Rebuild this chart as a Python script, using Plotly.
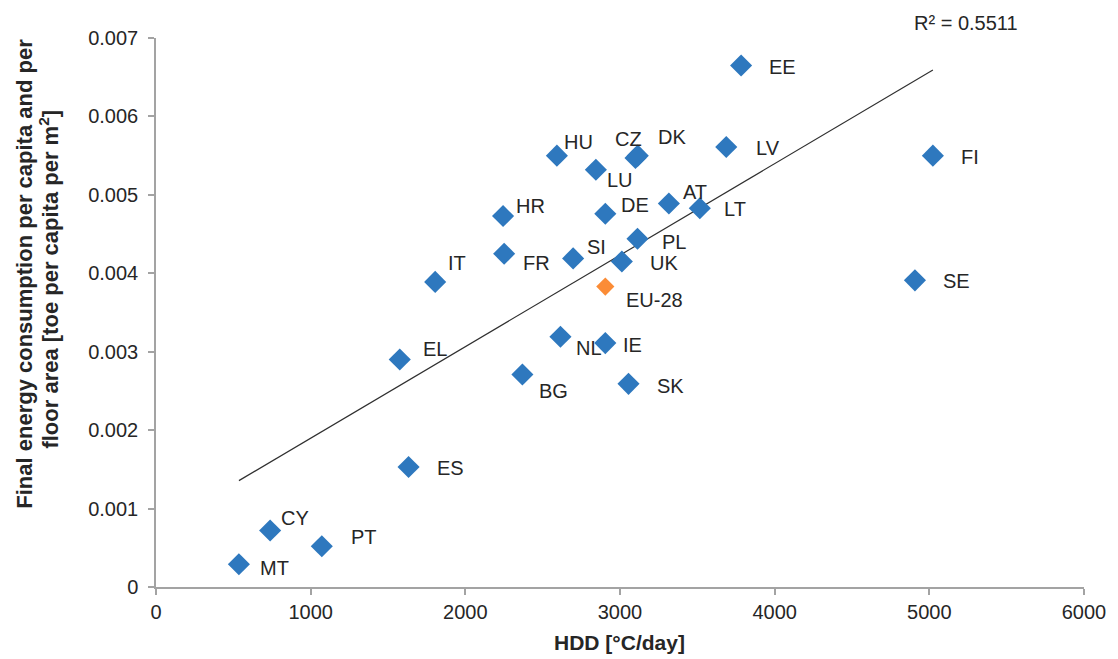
import numpy as np
import plotly.graph_objects as go

# ---- data ----
countries = ["EE", "FI", "SE", "LV", "HU", "CZ", "DK", "LU", "HR", "DE", "AT", "LT", "IT",
             "EL", "FR", "SI", "PL", "UK", "NL", "IE", "BG", "SK", "ES", "CY", "PT", "MT"]
hdd = [3783, 5023, 4907, 3687, 2592, 3100, 3115, 2844, 2244, 2905, 3316, 3516, 1805,
       1576, 2251, 2697, 3113, 3012, 2615, 2905, 2369, 3055, 1633, 738, 1072, 536]
consumption = [0.00665, 0.00550, 0.00391, 0.00561, 0.00550, 0.00547, 0.00550, 0.00532,
               0.00473, 0.00476, 0.00489, 0.00483, 0.00389, 0.00290, 0.00425, 0.00419,
               0.00444, 0.00415, 0.00319, 0.00311, 0.00271, 0.00259, 0.00153, 0.00072,
               0.00052, 0.00029]
eu_label = ["EU-28"]
eu_hdd = [2905]
eu_consumption = [0.00383]
r2_text = "R² = 0.5511"

x_ticks = [0, 1000, 2000, 3000, 4000, 5000, 6000]
y_ticks = [0, 0.001, 0.002, 0.003, 0.004, 0.005, 0.006, 0.007]
y_tick_text = ["0", "0.001", "0.002", "0.003", "0.004", "0.005", "0.006", "0.007"]

# ---- label placement (pixel offsets: left edge dx, centre dy downwards) ----
label_offsets = {
    "EE": (26, 2), "FI": (26, 1), "SE": (26, 1), "LV": (28, 1), "HU": (5, -14),
    "CZ": (-22, -19), "DK": (18, -19), "LU": (9, 10), "HR": (11, -10), "DE": (14, -9),
    "AT": (12, -11), "LT": (22, 1), "IT": (11, -19), "EL": (21, -11), "FR": (17, 9),
    "SI": (12, -11), "PL": (23, 3), "UK": (26, 1), "NL": (14, 11), "IE": (16, 2),
    "BG": (15, 17), "SK": (26, 2), "ES": (26, 1), "CY": (9, -13), "PT": (27, -9),
    "MT": (19, 4), "EU-28": (19, 13),
}

BLUE = "#2E78BE"
ORANGE = "#FB8C36"
TEXT = "#262626"
AXIS = "#A3A3A3"
FONT = "Liberation Sans, Arial, sans-serif"

W, H = 1118, 659
ML, MR, MT_, MB = 156, 29, 38, 72

# linear trend line (least squares over the countries)
slope, intercept = np.polyfit(hdd, consumption, 1)
trend_x = [min(hdd), max(hdd)]
trend_y = [slope * v + intercept for v in trend_x]

fig = go.Figure()
fig.add_trace(go.Scatter(x=trend_x, y=trend_y, mode="lines",
                         line=dict(color="#303030", width=1.2), hoverinfo="skip",
                         showlegend=False))
fig.add_trace(go.Scatter(x=hdd, y=consumption, mode="markers", text=countries,
                         marker=dict(symbol="diamond", size=17, color=BLUE),
                         showlegend=False))
fig.add_trace(go.Scatter(x=eu_hdd, y=eu_consumption, mode="markers", text=eu_label,
                         marker=dict(symbol="diamond", size=14, color=ORANGE),
                         showlegend=False))

plot_w = W - ML - MR
plot_h = H - MT_ - MB


def px_to_paper(px, py):
    return (px - ML) / plot_w, (H - MB - py) / plot_h


annotations = []
for name, xv, yv in list(zip(countries, hdd, consumption)) + list(zip(eu_label, eu_hdd, eu_consumption)):
    dx, dy = label_offsets[name]
    annotations.append(dict(x=xv, y=yv, xref="x", yref="y", text=name, showarrow=False,
                            xanchor="left", yanchor="middle", xshift=dx, yshift=-dy,
                            font=dict(family=FONT, size=20, color=TEXT)))

rx, ry = px_to_paper(970, 23)
annotations.append(dict(x=rx, y=ry, xref="paper", yref="paper", text=r2_text,
                        showarrow=False, xanchor="center", yanchor="middle",
                        font=dict(family=FONT, size=20, color=TEXT)))
tx, ty = px_to_paper(622, 642)
annotations.append(dict(x=tx, y=ty, xref="paper", yref="paper", text="<b>HDD [°C/day]</b>",
                        showarrow=False, xanchor="center", yanchor="middle",
                        font=dict(family=FONT, size=21, color=TEXT)))
l1x, l1y = px_to_paper(23, 274)
annotations.append(dict(x=l1x, y=l1y, xref="paper", yref="paper", textangle=-90,
                        text="<b>Final energy consumption per capita and per</b>",
                        showarrow=False, xanchor="center", yanchor="middle",
                        font=dict(family=FONT, size=22, color=TEXT)))
l2x, l2y = px_to_paper(48, 279)
annotations.append(dict(x=l2x, y=l2y, xref="paper", yref="paper", textangle=-90,
                        text="<b>floor area [toe per capita per m<sup>2</sup>]</b>",
                        showarrow=False, xanchor="center", yanchor="middle",
                        font=dict(family=FONT, size=22, color=TEXT)))

fig.update_layout(
    width=W, height=H,
    margin=dict(l=ML, r=MR, t=MT_, b=MB),
    paper_bgcolor="white", plot_bgcolor="white",
    font=dict(family=FONT, size=20, color=TEXT),
    annotations=annotations,
)

fig.update_xaxes(range=[0, 6000], tickvals=x_ticks, showgrid=False, zeroline=False,
                 showline=True, linecolor=AXIS, linewidth=1.5, ticks="outside",
                 ticklen=6, tickcolor=AXIS, tickwidth=1.5,
                 tickfont=dict(family=FONT, size=20, color=TEXT))
fig.update_yaxes(range=[0, 0.007], tickvals=y_ticks, ticktext=y_tick_text, showgrid=False,
                 zeroline=False, showline=True, linecolor=AXIS, linewidth=1.5,
                 ticks="outside", ticklen=6, tickcolor=AXIS, tickwidth=1.5,
                 ticklabelstandoff=6,
                 tickfont=dict(family=FONT, size=20, color=TEXT))

fig.write_html("out.html", config={"displayModeBar": False},
               post_script="document.body.style.margin='0';")
